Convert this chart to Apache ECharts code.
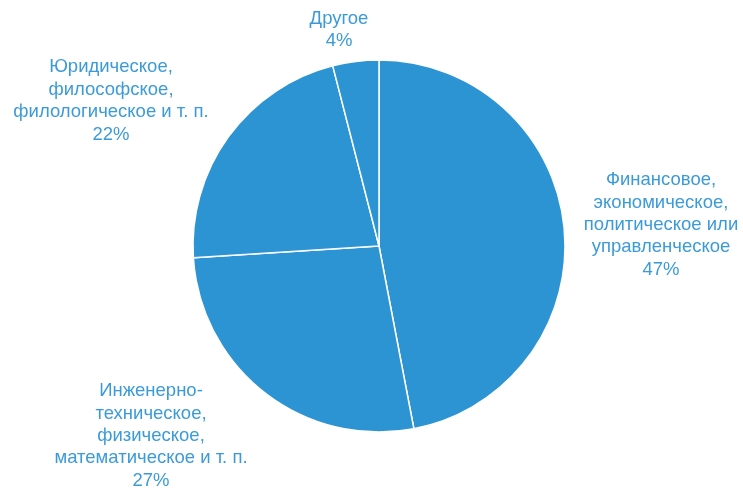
<!DOCTYPE html>
<html>
<head>
<meta charset="utf-8">
<script src="https://cdn.jsdelivr.net/npm/echarts@6/dist/echarts.min.js"></script>
<style>
  html, body { margin: 0; padding: 0; background: #fff; }
  #chart { width: 743px; height: 494px; }
</style>
</head>
<body>
<div id="chart"></div>
<script>
// Education profile shares
const categories = [
  'Финансовое,\nэкономическое,\nполитическое или\nуправленческое',
  'Инженерно-\nтехническое,\nфизическое,\nматематическое и т. п.',
  'Юридическое,\nфилософское,\nфилологическое и т. п.',
  'Другое'
];
const shares = [47, 27, 22, 4];

// Label anchor points (block centres) for each slice, in the same order
const labelAnchors = [
  [661, 225],
  [151, 436],
  [111, 101],
  [339, 30]
];

const chart = echarts.init(document.getElementById('chart'), null, { renderer: 'canvas' });

chart.setOption({
  animation: false,
  series: [{
    type: 'pie',
    center: [379, 246],
    radius: 186,
    startAngle: 90,
    clockwise: true,
    silent: true,
    itemStyle: {
      color: '#2D94D4',
      borderColor: '#ffffff',
      borderWidth: 1.5
    },
    label: {
      show: true,
      position: 'outside',
      formatter: p => p.name + '\n' + p.value + '%',
      color: '#3B9BD9',
      fontFamily: '"Liberation Sans", Arial, sans-serif',
      fontSize: 18.5,
      lineHeight: 22.4,
      align: 'center',
      overflow: 'none',
      width: 400
    },
    labelLine: { show: false },
    labelLayout: params => ({
      x: labelAnchors[params.dataIndex][0],
      y: labelAnchors[params.dataIndex][1],
      align: 'center',
      verticalAlign: 'middle'
    }),
    data: categories.map((name, i) => ({ name, value: shares[i] }))
  }]
});
</script>
</body>
</html>
